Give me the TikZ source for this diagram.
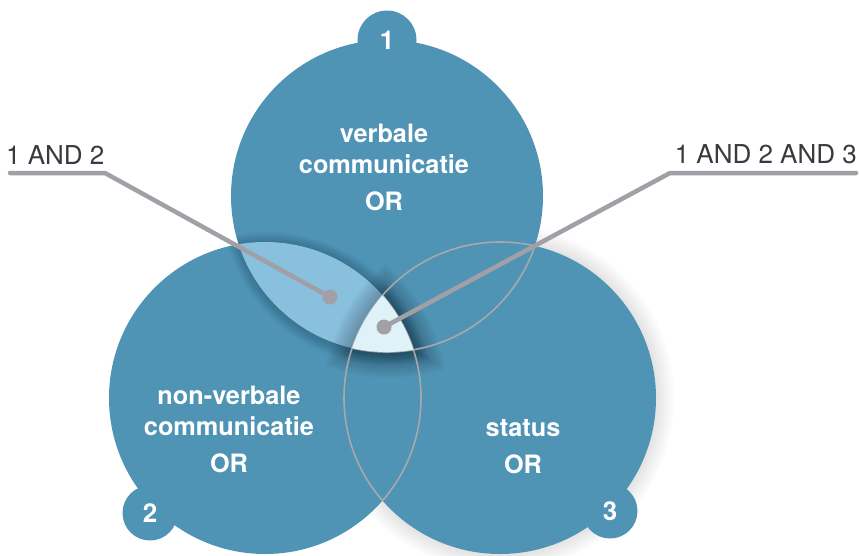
\documentclass[tikz,border=0pt]{standalone}
\usepackage{fontspec}
\setmainfont{TeX Gyre Heros}
\usetikzlibrary{calc}
\definecolor{basec}{RGB}{79,148,181}
\definecolor{lensc}{RGB}{136,192,222}
\definecolor{tric}{RGB}{222,242,247}
\definecolor{leadc}{RGB}{160,160,166}
\definecolor{outlc}{RGB}{168,168,172}
\definecolor{labelc}{RGB}{58,58,62}
\begin{document}
\begin{tikzpicture}[x=1pt,y=-1pt,
  circtext/.style={text=white,font=\fontsize{25.3}{31}\selectfont\bfseries,align=center,inner sep=0pt},
  badge/.style={circle,fill=basec,text=white,font=\fontsize{26}{26}\selectfont\bfseries,inner sep=0pt},
  lbl/.style={text=labelc,font=\fontsize{26}{26}\selectfont,inner sep=0pt},
  leader/.style={draw=leadc,line width=4.5pt,line cap=round,line join=round},
  dotn/.style={circle,fill=leadc,inner sep=0pt,minimum size=15pt},
  outl/.style={draw=outlc,line width=1.6pt}]
\useasboundingbox (0,0) rectangle (859,555);
\def\R{156pt}
\coordinate (c1) at (387,196);
\coordinate (c2) at (265,398);
\coordinate (c3) at (500,398);

% faint glow around circle 3
\foreach \d in {2,4,...,18} \fill[black,opacity=0.01] (c3) circle[radius=\R+\d pt];

% base circles
\fill[basec] (c1) circle[radius=\R];
\fill[basec] (c2) circle[radius=\R];
\fill[basec] (c3) circle[radius=\R];

% badges
\node[badge,minimum size=59pt] (b1) at (387,40) {1};
\node[badge,minimum size=55pt] (b2) at (150,513) {2};
\node[badge,minimum size=55pt] (b3) at (610,511) {3};

% shadow of lens 1-2
\begin{scope}
  \clip (c1) circle[radius=\R] (c2) circle[radius=\R] (c3) circle[radius=\R];
  \foreach \d in {1,2,...,12} {
    \begin{scope}
      \clip ($(c1)+(2,2)$) circle[radius=\R+\d pt];
      \fill[black,opacity=0.016] ($(c2)+(2,2)$) circle[radius=\R+\d pt];
    \end{scope}
  }
\end{scope}

% lens 1-2
\begin{scope}
  \clip (c1) circle[radius=\R];
  \fill[lensc] (c2) circle[radius=\R];
\end{scope}

% shadow of the triple region
\begin{scope}
  \clip (c1) circle[radius=\R] (c2) circle[radius=\R] (c3) circle[radius=\R];
  \foreach \d in {2,4,...,24} {
    \begin{scope}
      \clip ($(c1)+(3,2)$) circle[radius=\R+\d pt];
      \clip ($(c2)+(3,2)$) circle[radius=\R+\d pt];
      \fill[black,opacity=0.022] ($(c3)+(3,2)$) circle[radius=\R+\d pt];
    \end{scope}
  }
\end{scope}

% grey outlines where circles overlap
\begin{scope}
  \clip (c1) circle[radius=\R] (c2) circle[radius=\R];
  \draw[outl] (c3) circle[radius=\R];
\end{scope}
\begin{scope}
  \clip (c3) circle[radius=\R];
  \draw[outl] (c1) circle[radius=\R];
  \draw[outl] (c2) circle[radius=\R];
\end{scope}

% triple region
\begin{scope}
  \clip (c1) circle[radius=\R];
  \clip (c2) circle[radius=\R];
  \fill[tric] (c3) circle[radius=\R];
\end{scope}

% circle texts
\node[circtext] (t1) at (384,167) {verbale\\communicatie\\[6pt]OR};
\node[circtext] (t2) at (229,429) {non-verbale\\communicatie\\[6pt]OR};
\node[circtext] (t3) at (523,447) {status\\[6pt]OR};

% labels and leaders
\node[lbl,anchor=base west] (l12) at (6,164) {1 AND 2};
\node[lbl,anchor=base east] (l123) at (857,163) {1 AND 2 AND 3};

\coordinate (a1) at (10,173);
\coordinate (a2) at (105,173);
\node[dotn] (d12) at (330,297) {};
\draw[leader] (a1) -- (a2) -- (d12.center);

\coordinate (e1) at (856,173);
\coordinate (e2) at (670,173);
\node[dotn] (d123) at (384,327) {};
\draw[leader] (e1) -- (e2) -- (d123.center);
\end{tikzpicture}
\end{document}
